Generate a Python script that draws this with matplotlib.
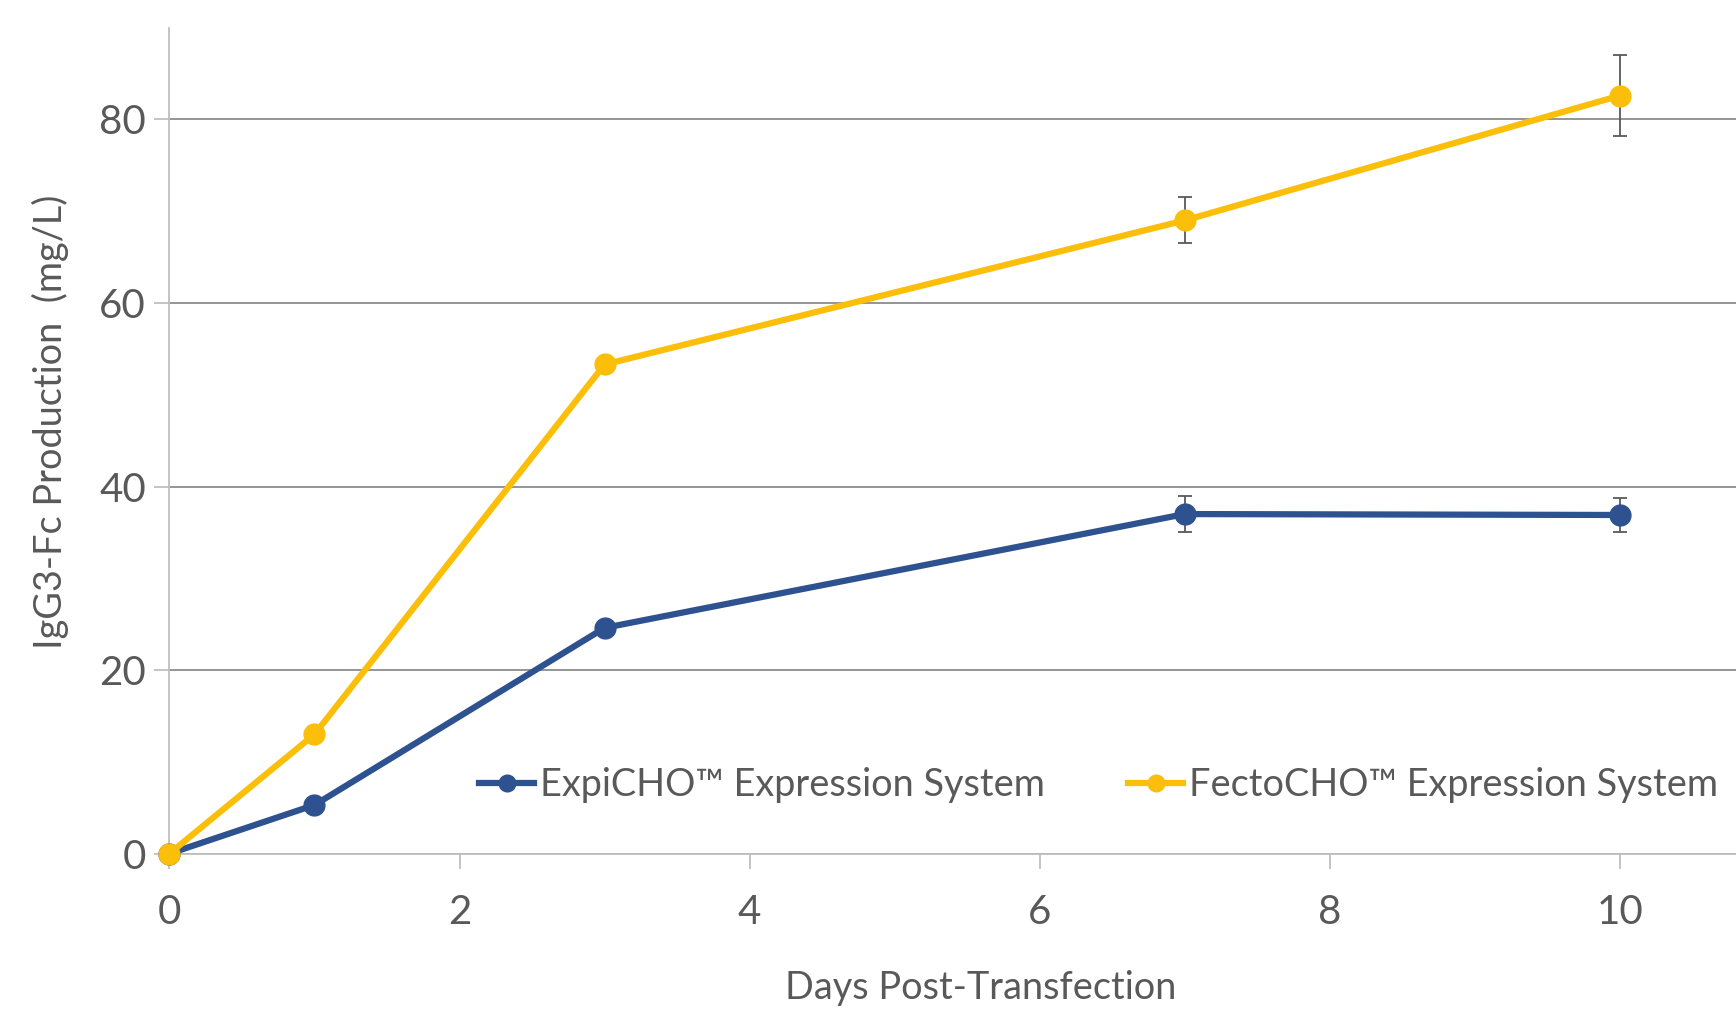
"""IgG3-Fc production over days post-transfection: ExpiCHO vs FectoCHO."""
import matplotlib

matplotlib.use("Agg")
import matplotlib.pyplot as plt

plt.rcParams["font.family"] = ["Lato", "DejaVu Sans"]

days = [0, 1, 3, 7, 10]
expicho_mg_l = [0.0, 5.3, 24.6, 37.0, 36.9]
expicho_err = [0.0, 0.0, 0.0, 2.0, 1.8]
fectocho_mg_l = [0.0, 13.0, 53.3, 69.0, 82.6]
fectocho_err = [0.0, 0.0, 0.0, 2.5, 4.45]

x_ticks = [0, 2, 4, 6, 8, 10]
y_ticks = [0, 20, 40, 60, 80]

C_TEXT = "#595959"
C_GRID = "#8c8c8c"
C_AXIS = "#bfbfbf"
C_BLUE = "#2e5190"
C_GOLD = "#fbbf0a"
FS = 27.3
FS_TICK = 29

fig = plt.figure(figsize=(17.36, 10.25), dpi=100)
ax = fig.add_axes([0.0976, 0.1672, 0.9024, 0.8058])

for vals, errs, color, label in [
    (expicho_mg_l, expicho_err, C_BLUE, "ExpiCHO\u2122 Expression System"),
    (fectocho_mg_l, fectocho_err, C_GOLD, "FectoCHO\u2122 Expression System"),
]:
    xe = [d for d, e in zip(days, errs) if e > 0]
    ye = [v for v, e in zip(vals, errs) if e > 0]
    ee = [e for e in errs if e > 0]
    ax.errorbar(xe, ye, yerr=ee, fmt="none", ecolor=C_TEXT, elinewidth=1.3,
                capsize=5, capthick=1.3, zorder=2)
    ax.plot(days, vals, color=color, linewidth=4.5, marker="o", markersize=15,
            label=label, zorder=3, clip_on=False)

ax.set_xlim(0, 10.8)
ax.set_ylim(0, 90)
ax.set_xticks(x_ticks)
ax.set_yticks(y_ticks)
ax.grid(axis="y", color=C_GRID, linewidth=1.3, zorder=0)
ax.set_axisbelow(True)

for side in ("top", "right"):
    ax.spines[side].set_visible(False)
for side in ("left", "bottom"):
    ax.spines[side].set_color(C_AXIS)
    ax.spines[side].set_linewidth(1.3)

ax.tick_params(axis="both", colors=C_AXIS, labelcolor=C_TEXT, labelsize=FS_TICK,
               length=11, width=1.3)
ax.tick_params(axis="x", pad=18)
ax.tick_params(axis="y", pad=6)

ax.set_xlabel("Days Post-Transfection", fontsize=FS, color=C_TEXT)
ax.xaxis.set_label_coords(0.518, -0.141)
ax.set_ylabel("IgG3-Fc Production  (mg/L)", fontsize=FS, color=C_TEXT)
ax.yaxis.set_label_coords(-0.064, 0.523)

ax.legend(loc="center", bbox_to_anchor=(0.593, 0.083), ncol=2, frameon=False,
          fontsize=FS, labelcolor=C_TEXT, handlelength=1.45, handletextpad=0.15,
          columnspacing=2.2, markerscale=0.8)

fig.savefig("out.png", dpi=100)
